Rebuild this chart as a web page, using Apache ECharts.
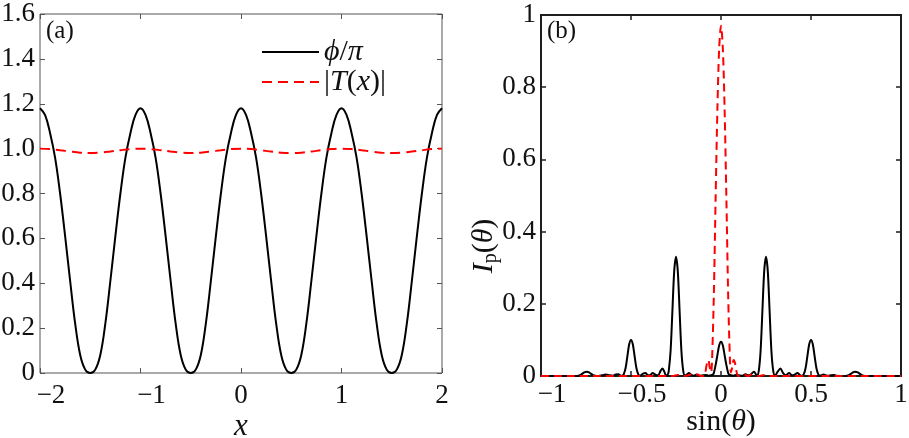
<!DOCTYPE html>
<html><head><meta charset="utf-8">
<script src="https://cdn.jsdelivr.net/npm/echarts@6/dist/echarts.min.js"></script>
<style>html,body{margin:0;padding:0;background:#fff}#c{width:909px;height:438px}</style>
</head><body><div id="c"></div><script>
// ---------- panel (a) data ----------
const phiX = [-2,-1.95,-1.9,-1.85,-1.8,-1.75,-1.7,-1.65,-1.6,-1.55,-1.5,-1.45,-1.4,-1.35,-1.3,-1.25,-1.2,-1.15,-1.1,-1.05,
  -1,-0.95,-0.9,-0.85,-0.8,-0.75,-0.7,-0.65,-0.6,-0.55,-0.5,-0.45,-0.4,-0.35,-0.3,-0.25,-0.2,-0.15,-0.1,-0.05,
  0,0.05,0.1,0.15,0.2,0.25,0.3,0.35,0.4,0.45,0.5,0.55,0.6,0.65,0.7,0.75,0.8,0.85,0.9,0.95,
  1,1.05,1.1,1.15,1.2,1.25,1.3,1.35,1.4,1.45,1.5,1.55,1.6,1.65,1.7,1.75,1.8,1.85,1.9,1.95,2];
const phiY = [1.18,1.15,1.07,0.96,0.80,0.61,0.41,0.22,0.08,0.015,0,0.015,0.08,0.22,0.41,0.61,0.80,0.96,1.07,1.15,
  1.18,1.15,1.07,0.96,0.80,0.61,0.41,0.22,0.08,0.015,0,0.015,0.08,0.22,0.41,0.61,0.80,0.96,1.07,1.15,
  1.18,1.15,1.07,0.96,0.80,0.61,0.41,0.22,0.08,0.015,0,0.015,0.08,0.22,0.41,0.61,0.80,0.96,1.07,1.15,
  1.18,1.15,1.07,0.96,0.80,0.61,0.41,0.22,0.08,0.015,0,0.015,0.08,0.22,0.41,0.61,0.80,0.96,1.07,1.15,1.18];
const tX = [-2,-1.9,-1.8,-1.7,-1.6,-1.5,-1.4,-1.3,-1.2,-1.1,-1,-0.9,-0.8,-0.7,-0.6,-0.5,-0.4,-0.3,-0.2,-0.1,
  0,0.1,0.2,0.3,0.4,0.5,0.6,0.7,0.8,0.9,1,1.1,1.2,1.3,1.4,1.5,1.6,1.7,1.8,1.9,2];
const tY = [1.0,0.998,0.993,0.987,0.982,0.980,0.982,0.987,0.993,0.998,
  1.0,0.998,0.993,0.987,0.982,0.980,0.982,0.987,0.993,0.998,
  1.0,0.998,0.993,0.987,0.982,0.980,0.982,0.987,0.993,0.998,
  1.0,0.998,0.993,0.987,0.982,0.980,0.982,0.987,0.993,0.998,1.0];

// ---------- panel (b) data ----------
const blackX = [-1,-0.8,-0.78,-0.76,-0.745,-0.73,-0.71,-0.69,-0.66,-0.64,-0.62,-0.6,-0.585,-0.57,-0.555,-0.545,
  -0.54,-0.53,-0.52,-0.51,-0.5,-0.49,-0.48,-0.47,-0.46,-0.45,-0.435,-0.42,-0.405,-0.395,-0.38,-0.365,-0.35,
  -0.335,-0.325,-0.315,-0.305,-0.295,-0.29,-0.28,-0.27,-0.26,-0.25,-0.24,-0.23,-0.22,-0.21,-0.2,-0.19,-0.178,
  -0.165,-0.15,-0.135,-0.12,-0.1,-0.085,-0.07,-0.055,-0.045,-0.04,-0.03,-0.02,-0.01,0,0.01,0.02,0.03,0.04,0.045,
  0.055,0.07,0.085,0.1,0.12,0.137,0.15,0.165,0.183,0.195,0.2,0.21,0.22,0.23,0.24,0.25,0.26,0.27,0.28,0.29,
  0.3,0.315,0.33,0.345,0.36,0.378,0.395,0.41,0.424,0.44,0.45,0.46,0.47,0.48,0.49,0.5,0.51,0.52,0.53,0.54,
  0.55,0.57,0.59,0.61,0.625,0.64,0.69,0.71,0.73,0.745,0.76,0.78,0.8,1];
const blackY = [0,0,0.003,0.010,0.012,0.009,0.002,0,0.002,0.004,0.002,0.001,0.004,0.005,0.001,0.002,
  0.005,0.022,0.055,0.088,0.100,0.088,0.055,0.022,0.005,0.001,0.006,0.008,0.002,0.002,0.008,0.004,0.002,
  0.015,0.021,0.012,0.001,0.005,0.015,0.07,0.18,0.29,0.33,0.29,0.18,0.07,0.015,0.001,0.004,0.008,
  0.003,0.001,0.004,0.001,0.002,0.003,0.001,0.002,0.004,0.008,0.03,0.058,0.085,0.095,0.085,0.058,0.03,0.008,0.004,
  0.002,0.001,0.003,0.002,0.001,0.005,0.002,0.004,0.012,0.004,0.001,0.015,0.07,0.18,0.29,0.33,0.29,0.18,0.07,0.015,
  0.001,0.012,0.021,0.008,0.002,0.008,0.002,0.004,0.008,0.002,0.001,0.005,0.022,0.055,0.088,0.100,0.088,0.055,0.022,0.005,
  0.001,0.004,0.001,0.002,0.003,0.001,0,0.002,0.009,0.012,0.010,0.003,0,0];
const redX = [-1,-0.27,-0.24,-0.21,-0.19,-0.17,-0.15,-0.13,-0.11,-0.095,-0.088,-0.078,-0.07,-0.063,-0.055,-0.05,
  -0.04,-0.03,-0.02,-0.01,0,0.01,0.02,0.03,0.04,0.05,0.055,0.063,0.07,0.078,0.088,0.095,0.11,0.13,0.15,0.17,0.19,
  0.21,0.24,0.27,1];
const redY = [0,0,0.003,0,0.001,0.004,0,0.004,0,0,0.008,0.035,0.044,0.025,0.01,0.04,
  0.22,0.49,0.74,0.91,0.97,0.91,0.74,0.49,0.22,0.04,0.01,0.025,0.044,0.035,0.008,0,0,0.004,0,0.004,0.001,
  0,0.003,0,0];

const SERIF = "'Liberation Serif','DejaVu Serif',serif";
const TXT = '#111';
const FS = 27;
const labRich = {
  n: {fontFamily: SERIF, fontSize: FS, color: TXT, padding: [0, 0, 0, 22]},
  p: {fontFamily: SERIF, fontSize: FS, color: TXT}
};
function xFmt(v) {
  const s = String(+v.toFixed(2));
  return v < 0 ? '{n|\u2212' + s.slice(1) + '}' : '{p|' + s + '}';
}
const chart = echarts.init(document.getElementById('c'));
const greyA = '#555', darkB = '#1e1e1e';
function mirrorX(grid, min, max, interval, color, w) {
  return {type: 'value', gridIndex: grid, position: 'top', min, max, interval,
    axisLine: {show: false, onZero: false}, axisLabel: {show: false}, splitLine: {show: false},
    axisTick: {show: true, inside: true, length: 5, lineStyle: {color, width: w}}};
}
function mirrorY(grid, min, max, interval, color, w) {
  return {type: 'value', gridIndex: grid, position: 'right', min, max, interval,
    axisLine: {show: false, onZero: false}, axisLabel: {show: false}, splitLine: {show: false},
    axisTick: {show: true, inside: true, length: 5, lineStyle: {color, width: w}}};
}
chart.setOption({
  animation: false,
  backgroundColor: '#fff',
  grid: [
    {left: 40, top: 14, width: 402, height: 359, show: true, borderColor: greyA, borderWidth: 1,
      containLabel: false, outerBoundsMode: 'none'},
    {left: 541, top: 15, width: 360, height: 361, show: true, borderColor: darkB, borderWidth: 2,
      containLabel: false, outerBoundsMode: 'none'}
  ],
  xAxis: [
    {type: 'value', gridIndex: 0, min: -2, max: 2, interval: 1,
      name: '{i|x}', nameLocation: 'middle', nameGap: 38, nameMoveOverlap: false,
      nameTextStyle: {rich: {i: {fontFamily: SERIF, fontStyle: 'italic', fontSize: 31, color: TXT}}},
      axisLine: {show: false, onZero: false}, splitLine: {show: false},
      axisTick: {show: true, inside: true, length: 5, lineStyle: {color: greyA}},
      axisLabel: {margin: 9, formatter: xFmt, rich: labRich}},
    mirrorX(0, -2, 2, 1, greyA, 1),
    {type: 'value', gridIndex: 1, min: -1, max: 1, interval: 0.5,
      name: '{n|sin(}{i|θ}{n|)}', nameLocation: 'middle', nameGap: 31, nameMoveOverlap: false,
      nameTextStyle: {rich: {
        i: {fontFamily: SERIF, fontStyle: 'italic', fontSize: 30, color: TXT},
        n: {fontFamily: SERIF, fontSize: 30, color: TXT}}},
      axisLine: {show: false, onZero: false}, splitLine: {show: false},
      axisTick: {show: true, inside: true, length: 5, lineStyle: {color: darkB, width: 1.5}},
      axisLabel: {margin: 5, formatter: xFmt, rich: labRich}},
    mirrorX(1, -1, 1, 0.5, darkB, 1.5)
  ],
  yAxis: [
    {type: 'value', gridIndex: 0, min: 0, max: 1.6, interval: 0.2,
      axisLine: {show: false, onZero: false}, splitLine: {show: false},
      axisTick: {show: true, inside: true, length: 5, lineStyle: {color: greyA}},
      axisLabel: {margin: 5, fontFamily: SERIF, fontSize: FS, color: TXT,
        formatter: v => v === 0 ? '0' : v.toFixed(1)}},
    mirrorY(0, 0, 1.6, 0.2, greyA, 1),
    {type: 'value', gridIndex: 1, min: 0, max: 1, interval: 0.2,
      axisLine: {show: false, onZero: false}, splitLine: {show: false},
      axisTick: {show: true, inside: true, length: 5, lineStyle: {color: darkB, width: 1.5}},
      axisLabel: {margin: 5, fontFamily: SERIF, fontSize: FS, color: TXT,
        formatter: v => (v === 0 || v === 1) ? String(v) : v.toFixed(1)}},
    mirrorY(1, 0, 1, 0.2, darkB, 1.5)
  ],
  legend: {
    show: true, orient: 'vertical', left: 256, top: 32, itemWidth: 57, itemHeight: 14, itemGap: 0,
    itemStyle: {opacity: 0},
    data: ['phi', 'T'],
    formatter: n => n === 'phi' ? '{i|ϕ}{n|/}{i|π}' : '{n||}{i|T}{n|(}{i|x}{n|)|}',
    textStyle: {rich: {
      i: {fontFamily: SERIF, fontStyle: 'italic', fontSize: 30, color: TXT},
      n: {fontFamily: SERIF, fontSize: 30, color: TXT}}}
  },
  graphic: [
    {type: 'text', left: 46, top: 19, style: {text: '(a)', font: "25px 'Liberation Serif'", fill: TXT}},
    {type: 'text', left: 547, top: 19, style: {text: '(b)', font: "25px 'Liberation Serif'", fill: TXT}},
    {type: 'text', x: 484, y: 246, rotation: Math.PI / 2,
      style: {text: '{i|I}{s|p}{n|(}{i|θ}{n|)}', align: 'center', verticalAlign: 'middle',
        rich: {
          i: {fontFamily: SERIF, fontStyle: 'italic', fontSize: 30, fill: TXT, color: TXT},
          s: {fontFamily: SERIF, fontSize: 20, fill: TXT, color: TXT, padding: [14, 0, 0, 0]},
          n: {fontFamily: SERIF, fontSize: 30, fill: TXT, color: TXT}}}}
  ],
  series: [
    {name: 'phi', type: 'line', xAxisIndex: 0, yAxisIndex: 0, symbol: 'none', smooth: 0.4,
      data: phiX.map((x, i) => [x, phiY[i]]),
      lineStyle: {color: '#000', width: 2}, itemStyle: {color: '#000'}},
    {name: 'T', type: 'line', xAxisIndex: 0, yAxisIndex: 0, symbol: 'none', smooth: 0.4,
      data: tX.map((x, i) => [x, tY[i]]),
      lineStyle: {color: '#ff0000', width: 2, type: [10, 6]}, itemStyle: {color: '#ff0000'}},
    {name: 'Ib', type: 'line', xAxisIndex: 2, yAxisIndex: 2, symbol: 'none', smooth: 0.3,
      data: blackX.map((x, i) => [x, blackY[i]]),
      lineStyle: {color: '#000', width: 2}, itemStyle: {color: '#000'}},
    {name: 'Ir', type: 'line', xAxisIndex: 2, yAxisIndex: 2, symbol: 'none', smooth: 0.3,
      data: redX.map((x, i) => [x, redY[i]]),
      lineStyle: {color: '#ff0000', width: 2, type: [8, 5]}, itemStyle: {color: '#ff0000'}}
  ]
});
</script></body></html>
